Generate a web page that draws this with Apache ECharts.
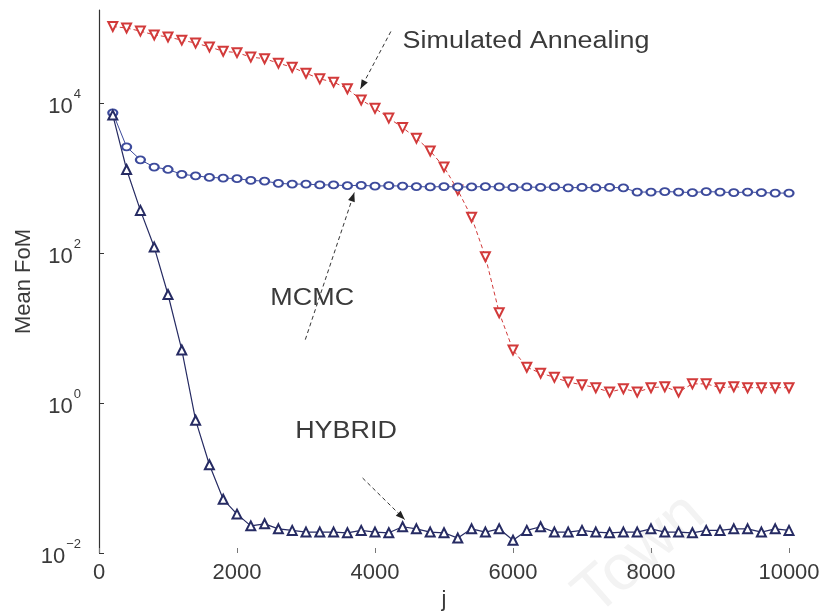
<!DOCTYPE html>
<html>
<head>
<meta charset="utf-8">
<script src="https://cdn.jsdelivr.net/npm/echarts@6/dist/echarts.min.js"></script>
<style>
  html, body { margin: 0; padding: 0; background: #fff; }
  #chart { width: 825px; height: 616px; }
</style>
</head>
<body>
<div id="chart"></div>
<script>
// Iteration number j at which the mean figure of merit was recorded
const iterations = [
  200, 400, 600, 800, 1000, 1200, 1400, 1600, 1800, 2000,
  2200, 2400, 2600, 2800, 3000, 3200, 3400, 3600, 3800, 4000,
  4200, 4400, 4600, 4800, 5000, 5200, 5400, 5600, 5800, 6000,
  6200, 6400, 6600, 6800, 7000, 7200, 7400, 7600, 7800, 8000,
  8200, 8400, 8600, 8800, 9000, 9200, 9400, 9600, 9800, 10000
];

// Mean FoM, simulated annealing
const annealing = [
  105000, 100000, 91000, 81000, 76000, 69000, 63000, 56000, 49000, 47000,
  41000, 39000, 34000, 30000, 25000, 21000, 19000, 15500, 11000, 8500,
  6300, 4700, 3400, 2300, 1400, 690, 300, 89, 16, 5.1,
  3.0, 2.5, 2.2, 1.9, 1.75, 1.6, 1.4, 1.55, 1.4, 1.6,
  1.65, 1.4, 1.8, 1.8, 1.6, 1.65, 1.6, 1.6, 1.6, 1.6
];

// Mean FoM, MCMC
const mcmc = [
  7400, 2600, 1750, 1400, 1300, 1120, 1070, 1020, 1000, 980,
  930, 910, 850, 830, 830, 810, 810, 790, 800, 780,
  790, 780, 770, 760, 770, 760, 760, 770, 760, 750,
  760, 750, 760, 740, 750, 740, 750, 740, 650, 650,
  660, 650, 640, 660, 650, 640, 650, 640, 630, 630
];

// Mean FoM, hybrid method
const hybrid = [
  6900, 1300, 370, 120, 28, 5.1, 0.59, 0.15, 0.052, 0.033,
  0.023, 0.0245, 0.021, 0.020, 0.019, 0.019, 0.019, 0.0186, 0.020, 0.019,
  0.0186, 0.0224, 0.021, 0.019, 0.0186, 0.0158, 0.021, 0.019, 0.021, 0.0148,
  0.020, 0.0224, 0.019, 0.019, 0.020, 0.019, 0.0186, 0.019, 0.019, 0.021,
  0.019, 0.019, 0.0186, 0.020, 0.020, 0.021, 0.021, 0.019, 0.021, 0.020
];

// Axis ticks
const xTicks = [0, 2000, 4000, 6000, 8000, 10000];
const yTicks = [0.01, 1, 100, 10000];

// Series labels with their text anchor and pointer (from, to) in data coordinates
const labels = [
  { text: 'Simulated Annealing', at: [4400, 65000], align: 'left',
    from: [4230, 90000], to: [3790, 15500] },
  { text: 'MCMC', at: [3090, 25], align: 'center',
    from: [2990, 7], to: [3700, 640] },
  { text: 'HYBRID', at: [3580, 0.41], align: 'center',
    from: [3820, 0.1], to: [4430, 0.028] }
];

const FONT = '"Liberation Sans", Arial, Helvetica, sans-serif';
const TEXT = '#3a3a3a';
const RED = '#d23a3a';
const BLUE = '#3d4b9c';
const NAVY = '#262b63';

function pairs(ys) { return iterations.map((x, i) => [x, ys[i]]); }

function powerLabel(v) {
  const e = Math.round(Math.log10(v));
  const s = String(e).replace('-', '\u2212');
  return '{b|10}{s|' + s + '}';
}

const chart = echarts.init(document.getElementById('chart'), null, { renderer: 'canvas' });

chart.setOption({
  animation: false,
  backgroundColor: '#fff',
  grid: { left: 99, right: 36, top: 10, bottom: 63, containLabel: false },
  xAxis: {
    type: 'value',
    min: 0, max: 10000, interval: 2000,
    name: 'j', nameLocation: 'middle', nameGap: 32,
    nameTextStyle: { fontFamily: FONT, fontSize: 22, color: TEXT },
    axisLine: { show: false },
    axisTick: { show: true, inside: true, length: 5, lineStyle: { color: '#777' } },
    splitLine: { show: false },
    axisLabel: {
      customValues: xTicks,
      formatter: v => String(v),
      fontFamily: FONT, fontSize: 22, color: TEXT, margin: 9
    }
  },
  yAxis: {
    type: 'log', logBase: 10,
    min: 0.01, max: 174000,
    name: 'Mean FoM', nameLocation: 'middle', nameGap: 64, nameMoveOverlap: false,
    nameTextStyle: { fontFamily: FONT, fontSize: 22, color: TEXT },
    axisLine: { show: true, lineStyle: { color: '#333', width: 1.2 } },
    axisTick: { show: true, inside: true, length: 5, customValues: yTicks,
                lineStyle: { color: '#333' } },
    splitLine: { show: false },
    minorTick: { show: false },
    axisLabel: {
      customValues: yTicks,
      margin: 18,
      formatter: powerLabel,
      rich: {
        b: { fontFamily: FONT, fontSize: 22, color: TEXT, lineHeight: 30, verticalAlign: 'bottom' },
        s: { fontFamily: FONT, fontSize: 13, color: TEXT, lineHeight: 30, verticalAlign: 'top', padding: [0, 0, 0, 1] }
      }
    }
  },
  series: [
    {
      name: 'Simulated Annealing', type: 'line', data: pairs(annealing),
      symbol: 'emptyTriangle', symbolRotate: 180, symbolSize: 9,
      lineStyle: { color: RED, width: 1, type: [4, 3] },
      itemStyle: { color: RED, borderWidth: 1 }
    },
    {
      name: 'MCMC', type: 'line', data: pairs(mcmc),
      symbol: 'emptyCircle', symbolSize: [9, 7],
      lineStyle: { color: BLUE, width: 1 },
      itemStyle: { color: BLUE, borderWidth: 1 }
    },
    {
      name: 'HYBRID', type: 'line', data: pairs(hybrid),
      symbol: 'emptyTriangle', symbolSize: 9,
      lineStyle: { color: NAVY, width: 1.2 },
      itemStyle: { color: NAVY, borderWidth: 1.2 }
    }
  ]
});

// Series captions with dashed pointers, placed through the grid's coordinate system
function px(p) { return chart.convertToPixel({ gridIndex: 0 }, p); }

const graphics = [
  {
    type: 'text', z: -1, x: 640, y: 555, rotation: 0.72,
    style: { text: 'Town', font: '64px ' + FONT, fill: '#f3f3f3', align: 'center', verticalAlign: 'middle' }
  }
];

labels.forEach(l => {
  const a = px(l.at), p0 = px(l.from), p1 = px(l.to);
  graphics.push({
    type: 'text', z: 10, x: a[0], y: a[1], scaleX: 1.17,
    style: { text: l.text, font: '23px ' + FONT, fill: TEXT, align: l.align, verticalAlign: 'middle' }
  });
  graphics.push({
    type: 'line', z: 10,
    shape: { x1: p0[0], y1: p0[1], x2: p1[0], y2: p1[1] },
    style: { stroke: '#333', lineWidth: 1, lineDash: [4, 3] }
  });
  const ang = Math.atan2(p1[1] - p0[1], p1[0] - p0[0]);
  const L = 9, W = 3.5;
  const bx = p1[0] - L * Math.cos(ang), by = p1[1] - L * Math.sin(ang);
  graphics.push({
    type: 'polygon', z: 10,
    shape: { points: [
      [p1[0], p1[1]],
      [bx + W * Math.sin(ang), by - W * Math.cos(ang)],
      [bx - W * Math.sin(ang), by + W * Math.cos(ang)]
    ] },
    style: { fill: '#222' }
  });
});

chart.setOption({ graphic: graphics });
</script>
</body>
</html>
